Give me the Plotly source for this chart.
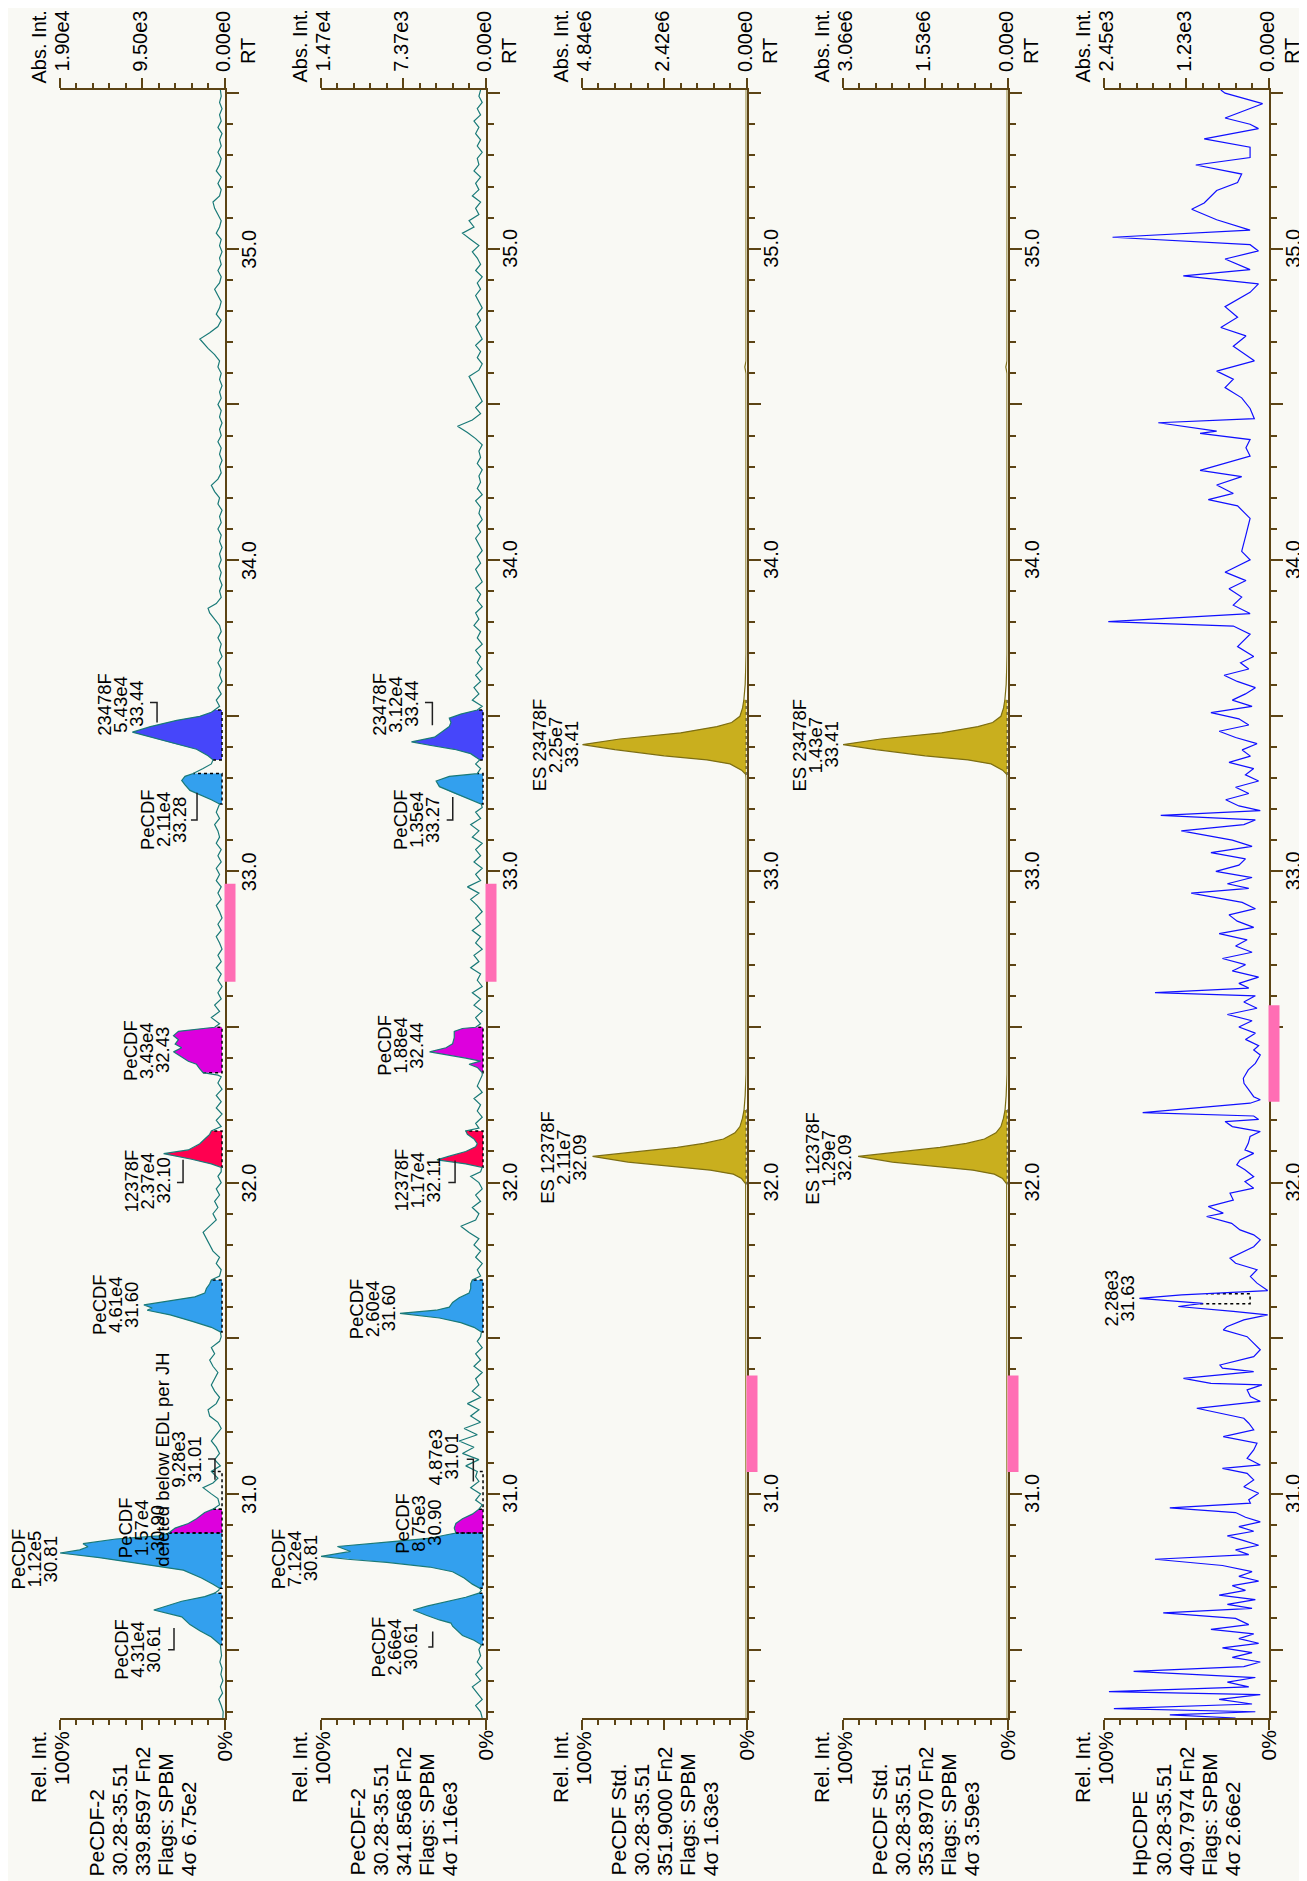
import numpy as np
import plotly.graph_objects as go

# page geometry: the html body has an 8 px margin, so the figure is drawn 8 px in from the corner
PAGE_W, PAGE_H = 1307, 1881
OFF = 8
W, H = PAGE_W - OFF, PAGE_H - OFF
RT_MIN, RT_MAX = 30.28, 35.51

# ---------------- text data ----------------
ABS_TOP = ["1.90e4", "1.47e4", "4.84e6", "3.06e6", "2.45e3"]
ABS_MID = ["9.50e3", "7.37e3", "2.42e6", "1.53e6", "1.23e3"]
INFO = [
    ["PeCDF-2", "30.28-35.51", "339.8597 Fn2", "Flags: SPBM", "4σ 6.75e2"],
    ["PeCDF-2", "30.28-35.51", "341.8568 Fn2", "Flags: SPBM", "4σ 1.16e3"],
    ["PeCDF Std.", "30.28-35.51", "351.9000 Fn2", "Flags: SPBM", "4σ 1.63e3"],
    ["PeCDF Std.", "30.28-35.51", "353.8970 Fn2", "Flags: SPBM", "4σ 3.59e3"],
    ["HpCDPE", "30.28-35.51", "409.7974 Fn2", "Flags: SPBM", "4σ 2.66e2"],
]
RT_TICK_LABELS = [31.0, 32.0, 33.0, 34.0, 35.0]

# ---------------- chromatogram data: (RT min, relative intensity %) ----------------
P1 = [(30.28,1.0),(30.30,0.8),(30.32,2.0),(30.34,3.5),(30.36,1.2),(30.38,2.5),(30.40,1.0),(30.42,2.2),(30.44,1.5),
 (30.46,2.8),(30.48,1.8),(30.50,2.0),
 (30.515,2.5),(30.54,8),(30.56,15),(30.58,21),(30.595,24),(30.605,26),(30.627,43),(30.64,35),(30.655,26),(30.67,12),
 (30.681,6),(30.69,3.5),(30.697,3),
 (30.71,7),(30.73,14),(30.755,25),(30.775,50),(30.795,76),(30.81,100),(30.82,88),(30.83,83),(30.84,86),(30.855,66),
 (30.865,40),(30.874,34),
 (30.89,30),(30.905,22),(30.92,17),(30.94,12),(30.951,7),(30.965,3),(30.985,4),(31.00,8),(31.02,13),(31.035,7),
 (31.05,4),(31.072,8),(31.09,2.5),
 (31.11,6),(31.13,3),(31.15,5),(31.17,8),(31.19,5),(31.21,2),(31.23,4),(31.25,9),(31.27,10),(31.29,5),(31.31,3),
 (31.33,6),(31.35,8),(31.37,6),(31.39,4),(31.41,7),(31.43,9),(31.45,6),(31.47,8),(31.49,3),(31.505,2),
 (31.52,2.5),(31.535,8),(31.555,20),(31.575,33),(31.59,47),(31.597,44),(31.607,49),(31.62,33),(31.633,18),(31.645,12),
 (31.66,11),(31.675,9),(31.687,8),
 (31.70,3),(31.72,2),(31.74,5),(31.76,3),(31.78,7),(31.80,9),(31.82,11),(31.84,13),(31.86,9),(31.88,5),(31.90,7),
 (31.92,4),(31.94,6),(31.96,3),(31.98,5),(32.00,2),(32.02,4),(32.035,2),
 (32.049,2),(32.06,8),(32.075,20),(32.093,37),(32.105,22),(32.115,18),(32.125,15),(32.14,12),(32.155,9),(32.166,8),
 (32.18,2),(32.20,5),(32.22,1.5),(32.24,5),(32.26,2),(32.28,5),(32.30,1.5),(32.32,4),(32.34,2),(32.345,4),
 (32.353,13),(32.365,15),(32.38,17),(32.39,22),(32.406,27),(32.42,31),(32.433,26),(32.445,30),(32.459,28),(32.472,31),
 (32.486,28),(32.495,13),(32.499,6),
 (32.51,3),(32.53,8),(32.55,3),(32.57,6),(32.59,2),(32.61,4),(32.63,1.5),(32.65,4),(32.67,2),(32.69,5),(32.71,2),
 (32.73,4),(32.75,1.5),(32.77,3),(32.79,5),(32.81,2),(32.83,4),(32.85,1.5),(32.87,3),(32.89,5),(32.91,2),(32.93,4),
 (32.95,2),(32.97,5),(32.99,3),(33.01,5),(33.03,2),(33.05,4),(33.07,2),(33.09,5),(33.11,3),(33.13,4),(33.15,6),
 (33.17,3),(33.19,5),(33.205,4),
 (33.216,3),(33.23,8),(33.245,15),(33.26,21),(33.278,24),(33.292,26),(33.305,24),(33.314,19),
 (33.33,13),(33.345,8),
 (33.358,7),(33.371,10),(33.392,17),(33.411,31),(33.431,45),(33.447,56),(33.465,45),(33.485,29),(33.498,15),
 (33.511,8),(33.518,6),
 (33.53,3),(33.55,5),(33.57,2),(33.59,4),(33.61,1.5),(33.63,3),(33.65,2),(33.67,4),(33.69,1.5),(33.71,3),(33.73,2),
 (33.75,4),(33.77,2),(33.79,3),(33.81,6),(33.83,9),(33.845,10),(33.86,5),(33.88,2),(33.90,3),(33.92,1.5),(33.94,3),
 (33.96,2),(33.98,3.5),(34.00,2),(34.02,3),(34.04,1.5),(34.06,3),(34.08,2),(34.10,4),(34.12,2),(34.14,3),(34.16,1.5),
 (34.18,4),(34.20,3),(34.22,6),(34.24,8),(34.26,4),(34.28,2),(34.30,3),(34.32,1.5),(34.34,3),(34.36,2),(34.38,4),
 (34.40,2),(34.42,3),(34.44,1.5),(34.46,3),(34.48,2),(34.50,4),(34.52,2),(34.54,3),(34.56,1.5),(34.58,3),(34.60,2),
 (34.62,4),(34.64,3),(34.66,6),(34.68,10),(34.71,15),(34.73,9),(34.75,4),(34.77,2),(34.79,5),(34.81,3),(34.83,2),
 (34.85,4),(34.87,6),(34.89,3),(34.91,2),(34.93,4),(34.95,2),(34.97,3),(34.99,1.5),(35.01,3),(35.03,2),(35.05,5),
 (35.07,3),(35.09,2),(35.11,4),(35.13,6),(35.15,7),(35.17,3),(35.19,2),(35.21,4),(35.23,2),(35.25,5),(35.27,3),
 (35.29,2),(35.31,4),(35.33,2),(35.35,3),(35.37,1.5),(35.39,4),(35.41,2),(35.43,3),(35.45,1.5),(35.47,3),(35.49,2),
 (35.51,2.5)]

P2 = [(30.28,2),(30.30,3),(30.32,6),(30.34,2),(30.36,5),(30.38,8),(30.40,3),(30.42,6),(30.44,2),(30.46,5),(30.48,3),
 (30.50,4),
 (30.515,2.5),(30.53,7),(30.545,14),(30.56,17),(30.575,20),(30.585,21),(30.595,28),(30.61,36),(30.627,44),(30.64,35),
 (30.655,23),(30.668,12),(30.681,4),(30.69,2.5),(30.697,3.5),
 (30.71,8),(30.73,13),(30.75,20),(30.765,34),(30.78,60),(30.79,84),(30.799,100),(30.815,82),(30.831,90),(30.845,60),
 (30.858,33),(30.867,25),(30.874,18),
 (30.89,19),(30.905,18),(30.92,14),(30.935,8),(30.951,4),(30.965,2),(30.98,6),(31.00,3),(31.02,9),(31.04,4),
 (31.055,6),(31.072,5),
 (31.09,12),(31.11,4),(31.13,14),(31.15,7),(31.17,16),(31.19,5),(31.21,13),(31.23,3),(31.25,9),(31.27,4),(31.29,11),
 (31.31,3),(31.33,8),(31.35,4),(31.37,6),(31.39,2),(31.41,7),(31.43,3),(31.45,6),(31.47,2),(31.49,5),(31.505,3),
 (31.52,2.5),(31.535,7),(31.55,15),(31.565,28),(31.58,52),(31.59,30),(31.60,22),(31.615,20),(31.63,16),(31.645,10),
 (31.66,9),(31.675,9),(31.687,8),
 (31.70,3),(31.72,5),(31.74,2),(31.76,6),(31.78,3),(31.80,7),(31.82,4),(31.84,10),(31.86,15),(31.88,6),(31.90,4),
 (31.92,8),(31.94,3),(31.96,6),(31.98,2),(32.00,4),(32.02,9),(32.035,3),
 (32.049,2),(32.06,12),(32.073,29.5),(32.085,22),(32.10,12),(32.115,6),(32.125,5),(32.14,7),(32.155,11),(32.166,12),
 (32.175,4),(32.19,6),(32.21,2),(32.23,5),(32.25,3),(32.27,7),(32.29,2),(32.31,5),(32.33,3),(32.345,2),
 (32.353,2),(32.37,5),(32.38,10),(32.39,3),(32.40,12),(32.42,34),(32.433,24),(32.446,20),(32.466,19),(32.486,19),
 (32.495,14),(32.499,6),
 (32.51,3),(32.53,6),(32.55,2),(32.57,7),(32.59,3),(32.61,8),(32.63,2),(32.65,5),(32.67,3),(32.69,9),(32.71,4),
 (32.73,7),(32.75,2),(32.77,6),(32.79,3),(32.81,8),(32.83,3),(32.85,6),(32.87,2),(32.89,5),(32.91,9),(32.93,4),
 (32.95,11),(32.97,3),(32.99,6),(33.01,2),(33.03,7),(33.05,3),(33.07,6),(33.09,2),(33.11,8),(33.13,4),(33.15,9),
 (33.17,3),(33.19,6),(33.205,2),
 (33.216,2.5),(33.23,9),(33.25,19),(33.272,28),(33.29,30),(33.305,22),(33.314,5),
 (33.33,3),(33.345,6),
 (33.358,3.5),(33.378,9),(33.392,19),(33.405,34),(33.416,45),(33.431,31),(33.45,26),(33.465,22),(33.478,21),
 (33.492,22),(33.505,15),(33.514,8),(33.518,5),
 (33.53,2),(33.55,8),(33.57,4),(33.59,7),(33.61,3),(33.63,6),(33.65,2),(33.67,5),(33.69,3),(33.71,6),(33.73,2),
 (33.75,5),(33.77,3),(33.79,7),(33.81,4),(33.83,6),(33.85,2),(33.87,5),(33.89,3),(33.91,6),(33.93,2),(33.95,4),
 (33.97,6),(33.99,3),(34.01,5),(34.03,2),(34.05,4),(34.07,6),(34.09,3),(34.11,5),(34.13,2),(34.15,4),(34.17,3),
 (34.19,6),(34.21,2),(34.23,5),(34.25,3),(34.27,4),(34.29,2),(34.31,5),(34.33,3),(34.35,4),(34.37,2),(34.39,6),
 (34.41,11),(34.43,17),(34.45,8),(34.47,3),(34.49,6),(34.51,2),(34.53,4),(34.55,6),(34.57,8),(34.59,10),(34.61,4),
 (34.63,2),(34.65,5),(34.67,3),(34.69,6),(34.71,2),(34.73,4),(34.75,6),(34.77,3),(34.79,5),(34.81,2),(34.83,4),
 (34.85,6),(34.87,3),(34.89,5),(34.91,2),(34.93,6),(34.95,3),(34.97,5),(34.99,8),(35.01,4),(35.03,9),(35.05,14),
 (35.07,7),(35.09,10),(35.11,4),(35.13,6),(35.15,3),(35.17,8),(35.19,4),(35.21,6),(35.23,3),(35.25,7),(35.27,4),
 (35.29,5),(35.31,2),(35.33,5),(35.35,3),(35.37,6),(35.39,4),(35.41,7),(35.43,3),(35.45,5),(35.47,2),(35.49,4),
 (35.51,3)]

P3 = [(30.28,0.2),(31.98,0.2),(31.996,0.5),(32.013,3),(32.027,8),(32.040,22),(32.053,45),(32.066,72),(32.084,93.6),
 (32.100,65),(32.113,42),(32.126,26),(32.140,14),(32.160,7),(32.180,4),(32.206,2.5),(32.233,1.5),(32.28,0.8),
 (32.35,0.3),(33.30,0.3),(33.312,0.5),(33.325,3),(33.345,10),(33.358,24),(33.371,50),(33.391,80),(33.407,99.7),
 (33.425,77),(33.445,40),(33.465,18),(33.478,9),(33.498,4),(33.525,2.4),(33.551,1.6),(33.60,0.8),(33.65,0.5),
 (33.70,0.3),(34.60,0.3),(34.62,1.0),(34.64,0.3),(35.51,0.2)]

P4 = [(30.28,0.2),(31.98,0.2),(31.996,0.5),(32.013,3),(32.027,8),(32.040,21),(32.053,44),(32.066,70),(32.084,90.8),
 (32.100,63),(32.113,41),(32.126,25),(32.140,14),(32.160,7),(32.180,4),(32.206,2.5),(32.233,1.5),(32.28,0.8),
 (32.35,0.3),(33.30,0.3),(33.312,0.5),(33.325,3),(33.345,10),(33.358,24),(33.371,50),(33.391,80),(33.407,100),
 (33.425,77),(33.445,40),(33.465,18),(33.478,9),(33.498,4),(33.525,2.4),(33.551,1.6),(33.60,0.8),(33.65,0.5),
 (33.70,0.3),(34.60,0.3),(34.62,1.0),(34.64,0.3),(35.51,0.2)]

P5 = [(30.28,20),(30.29,60),(30.30,8),(30.31,94),(30.325,10),(30.34,30),(30.355,5),(30.365,97),(30.38,12),(30.395,25),
 (30.41,8),(30.43,82),(30.445,15),(30.46,5),(30.475,22),(30.49,10),(30.505,28),(30.52,6),(30.535,18),(30.55,9),
 (30.565,35),(30.58,12),(30.60,20),(30.618,64),(30.632,10),(30.645,25),(30.66,8),(30.675,30),(30.69,14),(30.705,22),
 (30.72,6),(30.735,18),(30.75,10),(30.77,28),(30.79,69),(30.805,12),(30.82,20),(30.835,6),(30.85,15),(30.865,25),
 (30.88,9),(30.895,18),(30.91,5),(30.925,14),(30.94,20),(30.955,60),(30.97,11),(30.981,12),(31.002,6),(31.023,15),
 (31.045,9),(31.066,13),(31.082,28),(31.093,5),(31.114,13),(31.141,9),(31.163,7),(31.184,27.5),(31.206,9),
 (31.227,12),(31.243,15),(31.259,29.5),(31.275,43.6),(31.297,5),(31.313,11),(31.334,13),(31.350,4),(31.355,35),
 (31.371,51.7),(31.393,9),(31.404,28),(31.414,29.5),(31.441,9),(31.463,5),(31.484,9),(31.505,13),(31.527,27.5),
 (31.537,25.4),(31.559,15),(31.575,0.5),(31.586,21.4),(31.602,54.8),(31.612,40),(31.628,78.5),(31.639,52.8),
 (31.653,0.5),(31.677,7),(31.698,11),(31.720,7),(31.741,20),(31.757,23.4),(31.773,17.3),(31.794,9),(31.816,5),
 (31.832,9),(31.848,17.3),(31.869,22.4),(31.891,37.6),(31.902,27.5),(31.923,36.6),(31.944,21.4),(31.966,23.4),
 (31.982,9),(32.003,14.3),(32.019,9),(32.041,14.3),(32.057,19.3),(32.073,17.3),(32.094,9),(32.105,14.3),
 (32.126,12.3),(32.148,11.2),(32.164,5),(32.180,22),(32.196,26.4),(32.203,6),(32.214,9),(32.225,76.5),(32.255,11.2),
 (32.266,5),(32.276,9),(32.292,11.2),(32.319,14.9),(32.335,15.3),(32.362,12.3),(32.383,8),(32.410,5),(32.426,9),
 (32.44,6),(32.46,14),(32.48,8),(32.50,18),(32.52,10),(32.54,25),(32.56,7),(32.58,15),(32.60,8),(32.61,69),
 (32.625,12),(32.64,18),(32.66,6),(32.68,22),(32.70,14),(32.72,28),(32.74,10),(32.76,20),(32.78,13),(32.80,30),
 (32.82,9),(32.84,19),(32.86,24),(32.88,8),(32.90,16),(32.93,47),(32.945,12),(32.96,25),(32.98,10),(33.00,32),
 (33.02,18),(33.04,14),(33.06,35),(33.08,10),(33.10,22),(33.13,53),(33.15,15),(33.165,8),(33.18,65.5),(33.195,5),
 (33.21,18),(33.23,26),(33.25,12),(33.27,20),(33.29,6),(33.31,14),(33.33,9),(33.35,24),(33.37,11),(33.39,16),
 (33.41,7),(33.43,20),(33.45,30),(33.47,12),(33.49,18),(33.51,35),(33.53,10),(33.55,22),(33.57,14),(33.59,8),
 (33.61,19),(33.63,27),(33.65,12),(33.67,17),(33.69,9),(33.722,18.8),(33.762,11.2),(33.788,21.4),(33.802,97.4),
 (33.828,11.2),(33.855,21.4),(33.881,16.3),(33.908,24),(33.934,13.7),(33.961,26.4),(34.001,11.2),(34.028,16.3),
 (34.081,13.7),(34.134,11.2),(34.174,18.8),(34.194,36.6),(34.214,21.4),(34.241,31.5),(34.268,16.3),(34.288,41.6),
 (34.334,11.2),(34.361,13.7),(34.387,11.2),(34.407,41.6),(34.414,31.5),(34.441,67),(34.454,8.6),(34.487,11.2),
 (34.521,16.3),(34.554,26.4),(34.581,21.4),(34.607,31.5),(34.64,8.6),(34.687,21.4),(34.72,13.7),(34.747,29),
 (34.78,18.8),(34.814,26.4),(34.86,11.2),(34.887,6.1),(34.913,51.8),(34.933,11.2),(34.967,26.4),(34.993,6.1),
 (35.013,11.2),(35.037,94.8),(35.06,11.2),(35.093,31.5),(35.127,46.7),(35.147,39.1),(35.187,31.5),(35.213,18.8),
 (35.24,16.3),(35.269,44.2),(35.293,11.2),(35.326,11.2),(35.353,39.1),(35.386,6.1),(35.40,11.2),(35.42,26.4),
 (35.466,3.6),(35.50,26.4),(35.51,29)]

# integrated peak windows (start RT, end RT, fill kind)
P1_PEAKS = [(30.515,30.681,"pecdf"),(30.697,30.874,"pecdf"),(30.874,30.951,"mag"),(31.52,31.687,"pecdf"),
            (32.049,32.166,"red"),(32.353,32.499,"mag"),(33.216,33.314,"pecdf"),(33.358,33.518,"blue")]
P2_PEAKS = [(30.515,30.681,"pecdf"),(30.697,30.874,"pecdf"),(30.874,30.951,"mag"),(31.52,31.687,"pecdf"),
            (32.049,32.166,"red"),(32.353,32.499,"mag"),(33.216,33.314,"pecdf"),(33.358,33.518,"blue")]
P3_PEAKS = [(31.996,32.233,"gold"),(33.312,33.551,"gold")]
P4_PEAKS = [(31.996,32.233,"gold"),(33.312,33.551,"gold")]
P5_PEAKS = []
DELETED_WINDOWS = [[(30.951,31.072)], [(30.951,31.072)], [], [], [(31.611,31.643)]]
PINK_WINDOWS = [(32.645,32.96),(32.645,32.96),(31.07,31.38),(31.07,31.38),(32.26,32.57)]

# peak labels: (RT centre, x of last line in %, lines)
P1_LABELS = [(30.50,43.3,["PeCDF","4.31e4","30.61"]),(30.79,106.0,["PeCDF","1.12e5","30.81"]),
             (30.89,41.0,["PeCDF","1.57e4","30.90"]),(31.11,17.9,["deleted below EDL per JH","9.28e3","31.01"]),
             (31.607,56.2,["PeCDF","4.61e4","31.60"]),(32.007,37.4,["12378F","2.37e4","32.10"]),
             (32.426,37.4,["PeCDF","3.43e4","32.43"]),(33.165,27.0,["PeCDF","2.11e4","33.28"]),
             (33.538,53.2,["23478F","5.43e4","33.44"])]
P2_LABELS = [(30.51,45.9,["PeCDF","2.66e4","30.61"]),(30.793,106.7,["PeCDF","7.12e4","30.81"]),
             (30.907,30.7,["PeCDF","8.75e3","30.90"]),(31.12,20.4,["4.87e3","31.01"]),
             (31.596,59.3,["PeCDF","2.60e4","31.60"]),(32.007,31.9,["12378F","1.17e4","32.11"]),
             (32.44,41.6,["PeCDF","1.88e4","32.44"]),(33.165,31.9,["PeCDF","1.35e4","33.27"]),
             (33.538,44.7,["23478F","3.12e4","33.44"])]
P3_LABELS = [(33.407,106.3,["ES 23478F","2.25e7","33.41"]),(32.08,101.2,["ES 12378F","2.11e7","32.09"])]
P4_LABELS = [(33.407,106.7,["ES 23478F","1.43e7","33.41"]),(32.08,98.8,["ES 12378F","1.29e7","32.09"])]
P5_LABELS = [(31.629,85.8,["2.28e3","31.63"])]

# leader lines (x %, RT)
P1_LEADERS = [[(30.7,30.569),(30.7,30.499),(34.3,30.499)],[(10.0,31.112),(5.8,31.112),(5.8,31.045)],
              [(28.9,32.0),(25.2,32.0),(25.2,32.073)],[(16.7,33.252),(16.7,33.165),(20.4,33.165)],
              [(45.3,33.542),(41.0,33.542),(41.0,33.478)]]
P2_LEADERS = [[(32.1,30.558),(32.1,30.508),(34.8,30.508)],[(11.4,31.111),(7.4,31.111),(7.4,31.04)],
              [(22.6,32.0),(18.5,32.0),(18.5,32.071)],[(19.9,33.239),(19.9,33.165),(23.6,33.165)],
              [(36.8,33.542),(32.3,33.542),(32.3,33.469)]]

# ---------------- style ----------------
FONT = "Liberation Sans, Arial, sans-serif"
AX_SIZE = 21
TOP_SIZE = 20
LBL_SIZE = 18.5
BG = "#F9F9F4"
AX = "#5C4415"
FILL = {"pecdf": "#33A0EE", "mag": "#DD00DD", "red": "#FF0050", "blue": "#4646FA", "gold": "#C9AF1E"}
LINE_COL = ["#1A7A78", "#1A7A78", "#7D6E12", "#7D6E12", "#1010FF"]
PINK = "#FF6EB4"
PANEL_RIGHT = [224.5, 485.5, 746.5, 1007.5, 1268.5]   # page px of the 0 % line
PANEL_W = 164.5
TOP_PX, BOT_PX = 90, 1718
LINE_SP = 16
BASE = [1.5, 1.5, 0.0, 0.0, 11.2]

DATA = [P1, P2, P3, P4, P5]
PEAKS = [P1_PEAKS, P2_PEAKS, P3_PEAKS, P4_PEAKS, P5_PEAKS]
LABELS = [P1_LABELS, P2_LABELS, P3_LABELS, P4_LABELS, P5_LABELS]
LEADERS = [P1_LEADERS, P2_LEADERS, [], [], []]


def fx(px):   # page px -> paper x
    return (px - OFF) / W


def fy(py):   # page px -> paper y
    return 1 - (py - OFF) / H


fig = go.Figure()
annotations = []
shapes = []
layout = {}


def ann(text, x, y, xref, yref, xanchor="center", yanchor="middle", xshift=0, size=AX_SIZE):
    return dict(text=text, x=x, y=y, xref=xref, yref=yref, xanchor=xanchor, yanchor=yanchor,
                xshift=xshift, textangle=-90, showarrow=False, borderpad=0,
                font=dict(family=FONT, size=size, color="black"))


MAJOR_RT = [30.5, 31.0, 31.5, 32.0, 32.5, 33.0, 33.5, 34.0, 34.5, 35.0, 35.5]
MINOR_RT = [round(30.3 + 0.1 * k, 1) for k in range(53)]
MINOR_RT = [v for v in MINOR_RT if v not in MAJOR_RT and v <= RT_MAX]

for i in range(5):
    sfx = "" if i == 0 else str(i + 1)
    xr, yr = "x" + sfx, "y" + sfx
    dom = xr + " domain"
    x1 = PANEL_RIGHT[i]
    x0 = x1 - PANEL_W
    layout["xaxis" + sfx] = dict(
        domain=[fx(x0), fx(x1)], range=[100, 0], anchor=yr, showgrid=False, zeroline=False,
        showline=True, linecolor=AX, linewidth=2, mirror="allticks", ticks="outside",
        tickvals=[0, 50, 100], ticklen=10, tickwidth=2, tickcolor=AX, showticklabels=False,
        minor=dict(tickvals=[10, 20, 30, 40, 60, 70, 80, 90], ticks="outside", ticklen=5,
                   tickwidth=2, tickcolor=AX),
        fixedrange=True)
    layout["yaxis" + sfx] = dict(
        domain=[fy(BOT_PX), fy(TOP_PX)], range=[RT_MIN, RT_MAX], anchor=xr, side="right",
        showgrid=False, zeroline=False, showline=True, linecolor=AX, linewidth=2, ticks="outside",
        tickvals=MAJOR_RT, ticklen=12, tickwidth=2, tickcolor=AX, showticklabels=False,
        minor=dict(tickvals=MINOR_RT, ticks="outside", ticklen=6, tickwidth=2, tickcolor=AX),
        fixedrange=True)

    rts = np.array([p[0] for p in DATA[i]])
    ints = np.array([p[1] for p in DATA[i]])
    assert np.all(np.diff(rts) > 0), i
    base = BASE[i]

    # filled integrated peaks
    for (s, e, kind) in PEAKS[i]:
        inner = (rts > s) & (rts < e)
        seg_rt = [s] + list(rts[inner]) + [e]
        seg_in = [float(np.interp(s, rts, ints))] + list(ints[inner]) + [float(np.interp(e, rts, ints))]
        fig.add_trace(go.Scatter(x=[base] + seg_in + [base], y=[s] + seg_rt + [e], xaxis=xr, yaxis=yr,
                                 mode="lines", fill="toself", fillcolor=FILL[kind],
                                 line=dict(width=0), hoverinfo="skip"))
    # dotted integration outlines
    for (s, e) in [(p[0], p[1]) for p in PEAKS[i]] + DELETED_WINDOWS[i]:
        vs, ve = float(np.interp(s, rts, ints)), float(np.interp(e, rts, ints))
        fig.add_trace(go.Scatter(x=[vs, base, base, ve], y=[s, s, e, e], xaxis=xr, yaxis=yr,
                                 mode="lines", line=dict(color="black", width=1.5, dash="dot"),
                                 hoverinfo="skip"))
    # chromatogram line
    fig.add_trace(go.Scatter(x=ints, y=rts, xaxis=xr, yaxis=yr, mode="lines",
                             line=dict(color=LINE_COL[i], width=1.2), hoverinfo="skip"))
    # leader lines
    for ld in LEADERS[i]:
        fig.add_trace(go.Scatter(x=[p[0] for p in ld], y=[p[1] for p in ld], xaxis=xr, yaxis=yr,
                                 mode="lines", line=dict(color="#202020", width=1.5), hoverinfo="skip"))

    # pink bar right of the RT axis
    ps, pe = PINK_WINDOWS[i]
    shapes.append(dict(type="rect", xref=dom, yref=yr, x0=1.0, x1=1.0 + 11 / PANEL_W,
                       y0=ps, y1=pe, fillcolor=PINK, line=dict(width=0), layer="above"))

    # top labels
    annotations.append(ann("Abs. Int.", 1, fy(84), dom, "paper", yanchor="bottom", xshift=-186.5, size=TOP_SIZE))
    annotations.append(ann(ABS_TOP[i], 0, fy(73), dom, "paper", yanchor="bottom", xshift=1, size=TOP_SIZE))
    annotations.append(ann(ABS_MID[i], 0.5, fy(73), dom, "paper", yanchor="bottom", xshift=-3, size=TOP_SIZE))
    annotations.append(ann("0.00e0", 1, fy(73), dom, "paper", yanchor="bottom", xshift=-2, size=TOP_SIZE))
    annotations.append(ann("RT", 1, fy(65), dom, "paper", yanchor="bottom", xshift=23.5, size=TOP_SIZE))
    # bottom labels
    annotations.append(ann("Rel. Int.", 1, fy(1730), dom, "paper", yanchor="top", xshift=-186.5))
    annotations.append(ann("100%", 0, fy(1730), dom, "paper", yanchor="top", xshift=1))
    annotations.append(ann("0%", 1, fy(1730), dom, "paper", yanchor="top", xshift=-1))
    for k, line in enumerate(INFO[i]):
        annotations.append(ann(line, 1, fy(1877), dom, "paper", yanchor="bottom",
                               xshift=-129 + 23.3 * k))
    # RT tick labels
    for rt in RT_TICK_LABELS:
        annotations.append(ann(f"{rt:.1f}", 1, rt, dom, yr, xshift=24.5, size=TOP_SIZE))
    # peak labels (x given in %, placed through the axis domain so they may sit beyond 100 %)
    for (rt, xp, lines) in LABELS[i]:
        n = len(lines)
        for k, line in enumerate(lines):
            annotations.append(ann(line, (100 - xp) / 100, rt, dom, yr,
                                   xshift=-(n - 1 - k) * LINE_SP, size=LBL_SIZE))

fig.update_layout(**layout)
fig.update_layout(width=W, height=H, margin=dict(l=0, r=0, t=0, b=0), paper_bgcolor=BG,
                  plot_bgcolor=BG, showlegend=False, annotations=annotations, shapes=shapes)
fig.write_html("out.html")
